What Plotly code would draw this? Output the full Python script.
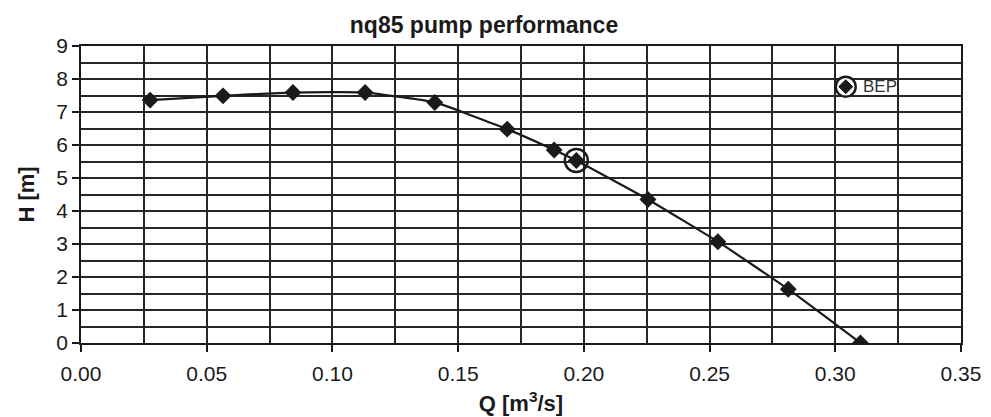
import plotly.graph_objects as go

# Data
Q = [0.0275, 0.0565, 0.0843, 0.1130, 0.1407, 0.1695, 0.1882, 0.1970, 0.2255, 0.2533, 0.2813, 0.3100]
H = [7.36, 7.49, 7.59, 7.59, 7.29, 6.48, 5.85, 5.53, 4.35, 3.07, 1.63, 0.0]
bep_Q = [0.1970]
bep_H = [5.53]

x_ticks = [0.00, 0.05, 0.10, 0.15, 0.20, 0.25, 0.30, 0.35]
x_ticklabels = ["0.00", "0.05", "0.10", "0.15", "0.20", "0.25", "0.30", "0.35"]
y_ticks = list(range(0, 10))

title_text = "nq85 pump performance"
x_title = "Q [m<sup>3</sup>/s]"
y_title = "H [m]"
legend_text = "BEP"

INK = "#1a1a1a"
GRID = "#262626"
FONT = "Liberation Sans, Arial, sans-serif"

fig = go.Figure()
fig.add_trace(go.Scatter(
    x=Q, y=H, mode="lines+markers",
    line=dict(color=INK, width=2.2, shape="spline", smoothing=0.4),
    marker=dict(symbol="diamond", size=13, color=INK),
    showlegend=False, hoverinfo="x+y",
))
fig.add_trace(go.Scatter(
    x=bep_Q, y=bep_H, mode="markers",
    marker=dict(symbol="circle-open", size=23, color=INK, line=dict(width=2.4, color=INK)),
    showlegend=False, name="BEP",
))

# Legend drawn as shapes/annotation in paper coordinates
lx, ly = 0.869, 0.863
fig.add_shape(type="circle", xref="paper", yref="paper", xsizemode="pixel", ysizemode="pixel",
              xanchor=lx, yanchor=ly, x0=-10, x1=10, y0=-10, y1=10,
              line=dict(color=INK, width=2.4), fillcolor="white")
fig.add_shape(type="path", xref="paper", yref="paper", xsizemode="pixel", ysizemode="pixel",
              xanchor=lx, yanchor=ly, path="M -7 0 L 0 7 L 7 0 L 0 -7 Z",
              line=dict(color=INK, width=1), fillcolor=INK)
fig.add_annotation(text=legend_text, xref="paper", yref="paper", x=0.886, y=ly,
                   xanchor="left", yanchor="middle", showarrow=False,
                   font=dict(family=FONT, size=17, color="#333333"))

fig.update_layout(
    width=991, height=417,
    margin=dict(l=81, r=30, t=46, b=73.5),
    paper_bgcolor="white", plot_bgcolor="white",
    font=dict(family=FONT, color=INK),
    title=dict(text="<b>" + title_text + "</b>", x=0.4884, xanchor="center", y=0.94, yanchor="middle",
               font=dict(size=23, color=INK)),
)
fig.update_xaxes(
    range=[0, 0.35], tickvals=x_ticks, ticktext=x_ticklabels,
    ticks="outside", ticklen=7, tickwidth=1.5, tickcolor=INK,
    showline=True, linecolor=INK, linewidth=1.5, mirror=True,
    showgrid=True, gridcolor=GRID, gridwidth=1.5,
    minor=dict(dtick=0.025, tick0=0, showgrid=True, gridcolor=GRID, gridwidth=1.5, ticks=""),
    tickfont=dict(size=21, color=INK), ticklabelstandoff=4,
    title=dict(text="<b>" + x_title + "</b>", font=dict(size=22, color=INK), standoff=12),
    zeroline=False, automargin=False,
)
fig.update_yaxes(
    range=[0, 9], tickvals=y_ticks,
    ticks="outside", ticklen=7, tickwidth=1.5, tickcolor=INK,
    showline=True, linecolor=INK, linewidth=1.5, mirror=True,
    showgrid=True, gridcolor=GRID, gridwidth=1.5,
    minor=dict(dtick=0.5, tick0=0, showgrid=True, gridcolor=GRID, gridwidth=1.5, ticks=""),
    tickfont=dict(size=21, color=INK),
    title=dict(text="<b>" + y_title + "</b>", font=dict(size=22, color=INK), standoff=16),
    zeroline=False, automargin=False,
)

fig.write_html("out.html")
